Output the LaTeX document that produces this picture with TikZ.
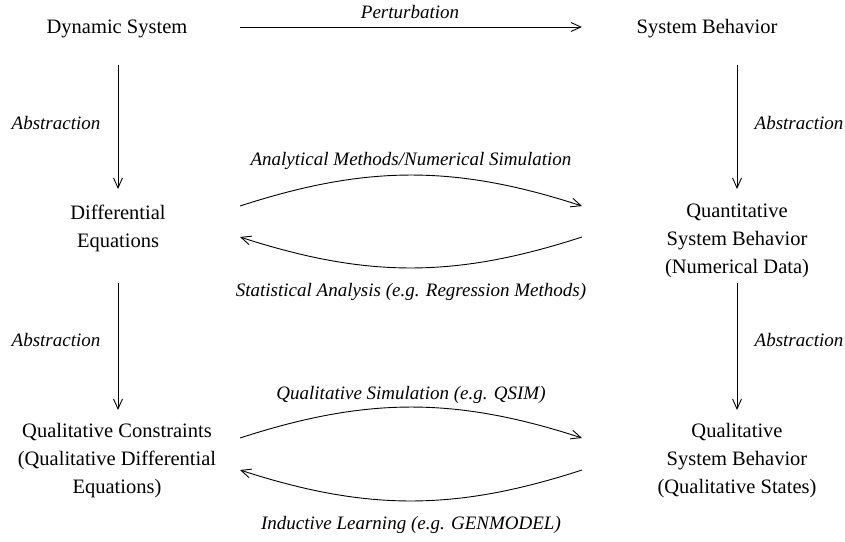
\documentclass[tikz,border=0pt]{standalone}
\usepackage{fontspec}
\setmainfont{Liberation Serif}
\usetikzlibrary{arrows.meta}
\tikzset{
  txt/.style={inner sep=0pt, align=center, font=\fontsize{20.5}{28}\selectfont},
  lab/.style={inner sep=0pt, font=\fontsize{19}{28}\selectfont\itshape},
  arr/.style={line width=0.9pt, -{Straight Barb[length=10pt,width=9pt,line width=0.9pt]}}
}
\begin{document}
\begin{tikzpicture}[x=1pt,y=-1pt]
\useasboundingbox (0,0) rectangle (845,541);
% nodes
\node[txt] (ds) at (117,29) {Dynamic System};
\node[txt] (sb) at (707,29) {System Behavior};
\node[txt] (de) at (118,228) {Differential\\Equations};
\node[txt] (qn) at (737,241) {Quantitative\\System Behavior\\(Numerical Data)};
\node[txt] (qc) at (117,461) {Qualitative Constraints\\(Qualitative Differential\\Equations)};
\node[txt] (ql) at (737,461) {Qualitative\\System Behavior\\(Qualitative States)};
% labels
\node[lab] (lp) at (410,12) {Perturbation};
\node[lab] (la1) at (56,123) {Abstraction};
\node[lab] (la2) at (799,123) {Abstraction};
\node[lab] (la3) at (56,340) {Abstraction};
\node[lab] (la4) at (799,340) {Abstraction};
\node[lab] (lam) at (411,161) {Analytical Methods/Numerical Simulation};
\node[lab] (lsa) at (411,292) {Statistical Analysis (e.g. Regression Methods)};
\node[lab] (lqs) at (411,395) {Qualitative Simulation (e.g. QSIM)};
\node[lab] (lil) at (411,525) {Inductive Learning (e.g. GENMODEL)};
% connector ends
\coordinate (p1) at (240,27);
\coordinate (p2) at (582,27);
\coordinate (dsS) at (118,65);
\coordinate (deN) at (118,189);
\coordinate (deS) at (118,283);
\coordinate (qcN) at (118,410);
\coordinate (sbS) at (737,65);
\coordinate (qnN) at (737,189);
\coordinate (qnS) at (737,283);
\coordinate (qlN) at (737,410);
\coordinate (deE1) at (240,206);
\coordinate (qnW1) at (582,206);
\coordinate (qnW2) at (582,237);
\coordinate (deE2) at (240,237);
\coordinate (qcE1) at (240,438);
\coordinate (qlW1) at (582,438);
\coordinate (qlW2) at (582,470);
\coordinate (qcE2) at (240,470);
% connectors
\draw[arr] (p1) -- (p2);
\draw[arr] (dsS) -- (deN);
\draw[arr] (deS) -- (qcN);
\draw[arr] (sbS) -- (qnN);
\draw[arr] (qnS) -- (qlN);
\draw[arr] (deE1) to[bend left=18] (qnW1);
\draw[arr] (qnW2) to[bend left=18] (deE2);
\draw[arr] (qcE1) to[bend left=18] (qlW1);
\draw[arr] (qlW2) to[bend left=18] (qcE2);
\end{tikzpicture}
\end{document}
